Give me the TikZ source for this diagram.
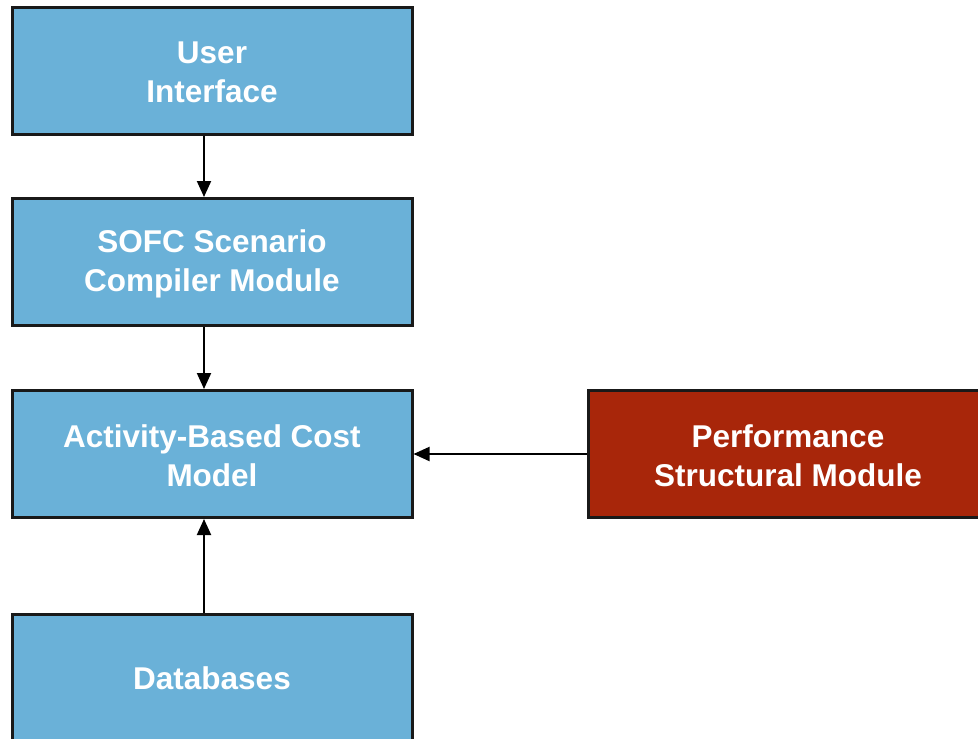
\documentclass[tikz,border=0pt]{standalone}
\usepackage{fontspec}
\setmainfont{Liberation Sans}
\usetikzlibrary{arrows.meta}
\definecolor{boxblue}{HTML}{6AB1D8}
\definecolor{boxred}{HTML}{A8260A}
\tikzset{
  module/.style={draw=black!90, line width=3pt, minimum width=400pt, minimum height=127pt,
    inner sep=0pt},
  bluebox/.style={module, fill=boxblue},
  redbox/.style={module, fill=boxred},
  boxtext/.style={inner sep=0pt, align=center, text=white, font=\fontsize{31.5}{39}\selectfont\bfseries},
  conn/.style={line width=2pt, -{Triangle[width=14pt,length=16pt]}}
}
\begin{document}
\begin{tikzpicture}[x=1pt,y=1pt]
\useasboundingbox (0,0) rectangle (978,-739);
\clip (0,0) rectangle (978,-739);
\node[bluebox] (ui) at (212,-70.5) {};
\node[bluebox] (sofc) at (212,-262) {};
\node[bluebox] (abc) at (212,-454) {};
\node[bluebox] (db) at (212,-677.5) {};
\node[redbox] (psm) at (788,-454) {};
\node[boxtext] (uit) at ([yshift=-2pt]ui.center) {User\\Interface};
\node[boxtext] (sofct) at ([yshift=-2pt]sofc.center) {SOFC Scenario\\Compiler Module};
\node[boxtext] (abct) at ([yshift=-2pt]abc.center) {Activity-Based Cost\\Model};
\node[boxtext] (dbt) at ([yshift=-1pt]db.center) {Databases};
\node[boxtext] (psmt) at ([yshift=-2pt]psm.center) {Performance\\Structural Module};
\draw[conn] ([xshift=-8pt]ui.south) -- ([xshift=-8pt]sofc.north);
\draw[conn] ([xshift=-8pt]sofc.south) -- ([xshift=-8pt]abc.north);
\draw[conn] ([xshift=-8pt]db.north) -- ([xshift=-8pt]abc.south);
\draw[conn] (psm.west) -- (abc.east);
\end{tikzpicture}
\end{document}
